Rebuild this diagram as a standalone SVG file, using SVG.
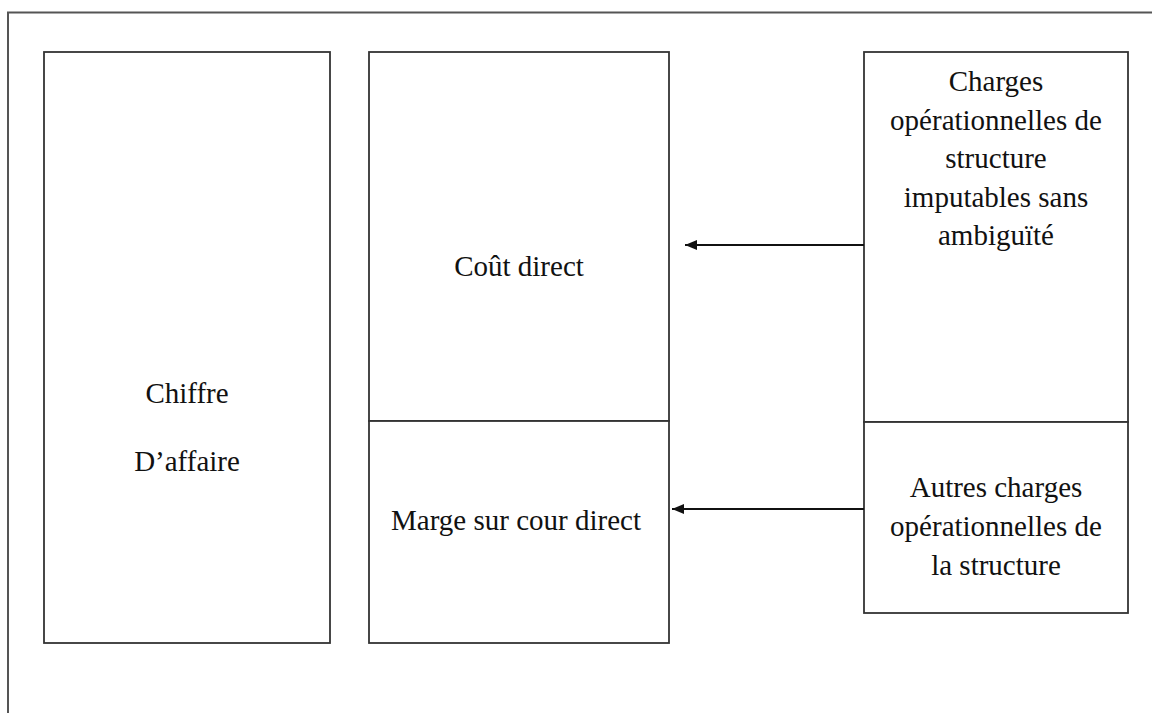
<svg xmlns="http://www.w3.org/2000/svg" width="1152" height="713" viewBox="0 0 1152 713">
<style>
  .frame { fill: none; stroke: #555; stroke-width: 2; }
  .box { fill: #fff; stroke: #333; stroke-width: 1.8; }
  .lbl { font-family: "Liberation Serif", "Times New Roman", serif; font-size: 29px; fill: #111; text-anchor: middle; }
  .conn { stroke: #111; stroke-width: 2; fill: none; marker-end: url(#arr); }
</style>
<defs>
  <marker id="arr" viewBox="0 0 12 10" refX="12" refY="5" markerWidth="12" markerHeight="10" markerUnits="userSpaceOnUse" orient="auto">
    <path d="M0,0 L12,5 L0,10 Z" fill="#111"/>
  </marker>
</defs>
<rect width="1152" height="713" fill="#fff"/>
<path class="frame" d="M8,713 V12.5 H1152"/>
<g id="chiffre-affaire">
  <rect class="box" x="44" y="52" width="286" height="591"/>
  <text class="lbl" x="187" y="403">Chiffre</text>
  <text class="lbl" x="187" y="471">D’affaire</text>
</g>
<g id="cout-direct">
  <rect class="box" x="369" y="52" width="300" height="369"/>
  <text class="lbl" x="519" y="276">Coût direct</text>
</g>
<g id="marge">
  <rect class="box" x="369" y="421" width="300" height="222"/>
  <text class="lbl" x="516" y="530">Marge sur cour direct</text>
</g>
<g id="charges-imputables">
  <rect class="box" x="864" y="52" width="264" height="370"/>
  <text class="lbl" x="996" y="91">Charges</text>
  <text class="lbl" x="996" y="130">opérationnelles de</text>
  <text class="lbl" x="996" y="168">structure</text>
  <text class="lbl" x="996" y="207">imputables sans</text>
  <text class="lbl" x="996" y="245">ambiguïté</text>
</g>
<g id="autres-charges">
  <rect class="box" x="864" y="422" width="264" height="191"/>
  <text class="lbl" x="996" y="497">Autres charges</text>
  <text class="lbl" x="996" y="536">opérationnelles de</text>
  <text class="lbl" x="996" y="575">la structure</text>
</g>
<g id="connectors">
  <line class="conn" x1="864" y1="245" x2="685" y2="245"/>
  <line class="conn" x1="864" y1="509" x2="672" y2="509"/>
</g>
</svg>
